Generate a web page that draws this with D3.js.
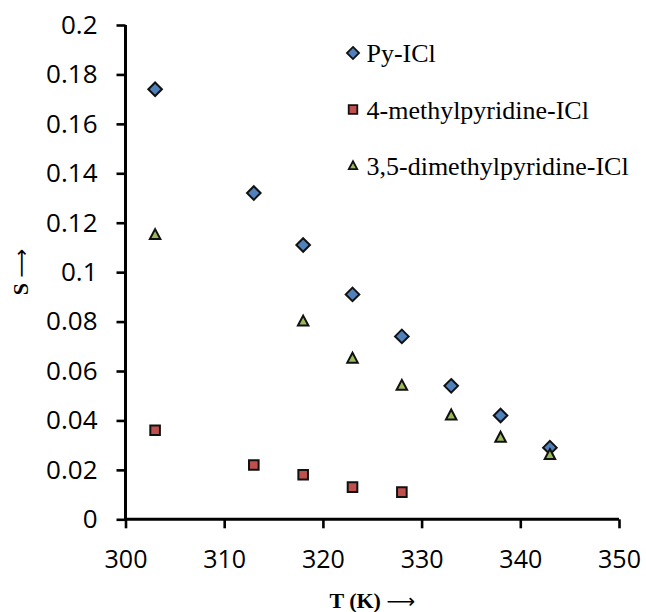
<!DOCTYPE html>
<html>
<head>
<meta charset="utf-8">
<script src="https://cdn.jsdelivr.net/npm/d3@7"></script>
<style>
  html, body { margin: 0; padding: 0; background: #fff; }
  svg { display: block; }
  .domain { stroke: #000; stroke-width: 3px; }
  .tick line { stroke: #000; stroke-width: 2.6px; }
</style>
</head>
<body>
<svg id="chart" width="646" height="612"></svg>
<script>
// ---- data ----
const seriesNames = ["Py-ICl", "4-methylpyridine-ICl", "3,5-dimethylpyridine-ICl"];
const pyT = [303, 313, 318, 323, 328, 333, 338, 343];
const pyS = [0.174, 0.132, 0.111, 0.091, 0.074, 0.054, 0.042, 0.029];
const meT = [303, 313, 318, 323, 328];
const meS = [0.036, 0.022, 0.018, 0.013, 0.011];
const dmT = [303, 318, 323, 328, 333, 338, 343];
const dmS = [0.115, 0.080, 0.065, 0.054, 0.042, 0.033, 0.026];
const xTicks = [300, 310, 320, 330, 340, 350];
const yTicks = [0, 0.02, 0.04, 0.06, 0.08, 0.1, 0.12, 0.14, 0.16, 0.18, 0.2];
const xTitle = "T (K)";
const yTitle = "S";
const arrow = "\u27F6";

const colors = ["#4F81BD", "#C0504D", "#9BBB59"];

const svg = d3.select("#chart");
const mLeft = 125.5, mRight = 619, mTop = 25, mBottom = 519.3;

const x = d3.scaleLinear().domain([300, 350]).range([mLeft, mRight]);
const y = d3.scaleLinear().domain([0, 0.2]).range([mBottom, mTop]);

// custom symbol types
const diamond = { draw(ctx, size) { const r = Math.sqrt(size) / 2 * Math.SQRT2; ctx.moveTo(0, -r); ctx.lineTo(r, 0); ctx.lineTo(0, r); ctx.lineTo(-r, 0); ctx.closePath(); } };
const square = { draw(ctx, size) { const h = Math.sqrt(size) / 2; ctx.rect(-h, -h, 2 * h, 2 * h); } };
const triangle = { draw(ctx, size) { const w = Math.sqrt(size); const h = w * 0.95; ctx.moveTo(0, -h * 0.6); ctx.lineTo(w / 2, h * 0.4); ctx.lineTo(-w / 2, h * 0.4); ctx.closePath(); } };

const series = [
  { name: seriesNames[0], T: pyT, S: pyS, type: diamond, size: 92, color: colors[0] },
  { name: seriesNames[1], T: meT, S: meS, type: square, size: 92, color: colors[1] },
  { name: seriesNames[2], T: dmT, S: dmS, type: triangle, size: 110, color: colors[2] }
];

// axes
const yAxis = svg.append("g").attr("transform", `translate(${mLeft},0)`)
  .call(d3.axisLeft(y).tickValues(yTicks).tickSize(9).tickPadding(19).tickFormat(d => String(+d.toFixed(2))));
const xAxis = svg.append("g").attr("transform", `translate(0,${mBottom})`)
  .call(d3.axisBottom(x).tickValues(xTicks).tickSize(9).tickPadding(22).tickFormat(d3.format("d")));

[yAxis, xAxis].forEach(a => {
  a.select(".domain").attr("stroke", "#000").attr("stroke-width", 3);
  a.selectAll(".tick line").attr("stroke", "#000").attr("stroke-width", 2.6);
  a.selectAll(".tick text").attr("fill", "#000").style("font-family", "'Open Sans', sans-serif");
});
yAxis.select(".domain").attr("d", `M0,${mTop}V${mBottom + 1.5}`);
xAxis.select(".domain").attr("d", `M${mLeft - 1.5},0H${mRight}`);
yAxis.selectAll(".tick text").style("font-size", "26px");
xAxis.selectAll(".tick text").style("font-size", "25px");

// points
series.forEach(s => {
  svg.append("g").selectAll("path")
    .data(s.T.map((t, i) => [t, s.S[i]]))
    .join("path")
    .attr("transform", d => `translate(${x(d[0])},${y(d[1])})`)
    .attr("d", d3.symbol().type(s.type).size(s.size))
    .attr("fill", s.color)
    .attr("stroke", "#111")
    .attr("stroke-width", 2);
});

// legend
const legend = svg.append("g");
series.forEach((s, i) => {
  const cy = 53 + i * 56.5;
  legend.append("path")
    .attr("transform", `translate(353,${cy})`)
    .attr("d", d3.symbol().type(s.type).size(i === 2 ? 70 : s.size * 0.8))
    .attr("fill", s.color).attr("stroke", "#111").attr("stroke-width", 1.8);
  legend.append("text")
    .attr("x", 366.5).attr("y", cy + 9)
    .style("font-family", "'Liberation Serif', 'Times New Roman', serif")
    .style("font-size", "26px")
    .attr("fill", "#000")
    .text(s.name);
});

// axis titles
const xt = svg.append("text")
  .attr("x", (mLeft + mRight) / 2).attr("y", 608)
  .attr("text-anchor", "middle")
  .style("font-family", "'Liberation Serif', 'Times New Roman', serif")
  .style("font-size", "22px").style("font-weight", "bold");
xt.append("tspan").text(xTitle + " ");
xt.append("tspan").style("font-family", "'DejaVu Sans', sans-serif").style("font-weight", "normal").style("font-size", "20px").text(arrow);

const yt = svg.append("text")
  .attr("transform", `translate(28,${(mTop + mBottom) / 2}) rotate(-90)`)
  .attr("text-anchor", "middle")
  .style("font-family", "'Liberation Serif', 'Times New Roman', serif")
  .style("font-size", "22px").style("font-weight", "bold");
yt.append("tspan").text(yTitle + " ");
yt.append("tspan").style("font-family", "'DejaVu Sans', sans-serif").style("font-weight", "normal").style("font-size", "20px").text(arrow);
</script>
</body>
</html>
